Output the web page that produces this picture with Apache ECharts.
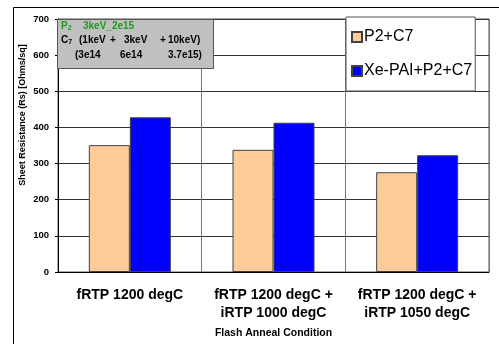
<!DOCTYPE html>
<html>
<head>
<meta charset="utf-8">
<script src="https://cdn.jsdelivr.net/npm/echarts@6/dist/echarts.min.js"></script>
<style>html,body{margin:0;padding:0;background:#fff;overflow:hidden;}#c{width:499px;height:344px;}</style>
</head>
<body>
<div id="c"></div>
<script>
var categories = ['fRTP 1200 degC', 'fRTP 1200 degC +\niRTP 1000 degC', 'fRTP 1200 degC +\niRTP 1050 degC'];
var seriesNames = ['P2+C7', 'Xe-PAI+P2+C7'];
var p2c7 = [351, 338, 276];
var xePai = [428, 413, 323];
var yTicks = [0, 100, 200, 300, 400, 500, 600, 700];

var FONT = 'Liberation Sans, Arial, sans-serif';
var chart = echarts.init(document.getElementById('c'));

function t(x, y, text, color, rich) {
  return {
    type: 'text', x: x, y: y, z: 101,
    style: {
      text: text, fill: color || '#000', font: 'bold 10px ' + FONT,
      verticalAlign: 'middle', align: 'left',
      rich: rich
    }
  };
}
function subRich(col) {
  return {
    m: { fontSize: 10, fontWeight: 'bold', fontFamily: FONT, fill: col },
    s: { fontSize: 7, fontWeight: 'bold', fontFamily: FONT, fill: col, padding: [5, 0, 0, 0] }
  };
}

chart.setOption({
  animation: false,
  backgroundColor: '#fff',
  grid: { left: 58, right: 10, top: 19, bottom: 69, show: true, borderColor: '#555', borderWidth: 1 },
  legend: {
    orient: 'vertical', left: 346, top: 17,
    backgroundColor: '#fff', borderColor: '#555', borderWidth: 1,
    padding: [12, 3, 12, 5],
    itemWidth: 10, itemHeight: 10, itemGap: 18,
    icon: 'rect',
    textStyle: { fontSize: 16, fontFamily: FONT, color: '#000', padding: [0, 0, 0, -3] },
    data: seriesNames,
    z: 102
  },
  xAxis: {
    type: 'category', data: categories,
    axisLine: { lineStyle: { color: '#000' } },
    axisTick: { show: false },
    splitLine: { show: true, lineStyle: { color: '#777' } },
    axisLabel: { fontSize: 14, fontWeight: 'bold', fontFamily: FONT, color: '#000', lineHeight: 18, margin: 14, interval: 0 },
    name: 'Flash Anneal Condition', nameLocation: 'middle', nameGap: 56,
    nameTextStyle: { fontSize: 10.5, fontWeight: 'bold', fontFamily: FONT, color: '#000' }
  },
  yAxis: {
    type: 'value', min: 0, max: 700, interval: 100,
    axisLine: { show: true, lineStyle: { color: '#000' } },
    axisTick: { show: true, length: 3, lineStyle: { color: '#000' } },
    splitLine: { show: true, lineStyle: { color: '#333' } },
    axisLabel: {
      fontSize: 9.5, fontWeight: 'bold', fontFamily: FONT, color: '#000', margin: 9,
      formatter: function (v) { return yTicks.indexOf(v) >= 0 ? String(v) : ''; }
    }
  },
  series: [
    {
      name: seriesNames[0], type: 'bar', data: p2c7, barWidth: 41, barGap: '0%',
      itemStyle: { color: '#FFCC99', borderColor: '#404040', borderWidth: 1 }
    },
    {
      name: seriesNames[1], type: 'bar', data: xePai, barWidth: 41,
      itemStyle: { color: '#0000FF', borderColor: '#404040', borderWidth: 1 }
    }
  ],
  graphic: [
    { type: 'polyline', z: 50, silent: true, shape: { points: [[13.5, 344], [13.5, 7.5], [499, 7.5]] },
      style: { fill: null, stroke: '#000', lineWidth: 1 } },
    { type: 'text', z: 100, x: 23, y: 115, rotation: Math.PI / 2,
      style: { text: 'Sheet Resistance (Rs) [Ohms/sq]', font: 'bold 9px ' + FONT, fill: '#000', align: 'center', verticalAlign: 'middle' } },
    { type: 'rect', z: 100, shape: { x: 57.5, y: 19.5, width: 156, height: 49 },
      style: { fill: '#C0C0C0', stroke: '#555', lineWidth: 1 } },
    t(61, 26, '{m|P}{s|2}', '#1E9A1E', subRich('#1E9A1E')),
    t(83, 26, '3keV_2e15', '#1E9A1E'),
    t(61, 40, '{m|C}{s|7}', '#000', subRich('#000')),
    t(79, 40, '(1keV', '#000'),
    t(110, 40, '+', '#000'),
    t(124, 40, '3keV', '#000'),
    t(160, 40, '+', '#000'),
    t(168, 40, '10keV)', '#000'),
    t(75, 55, '(3e14', '#000'),
    t(120, 55, '6e14', '#000'),
    t(168, 55, '3.7e15)', '#000')
  ]
});
</script>
</body>
</html>
